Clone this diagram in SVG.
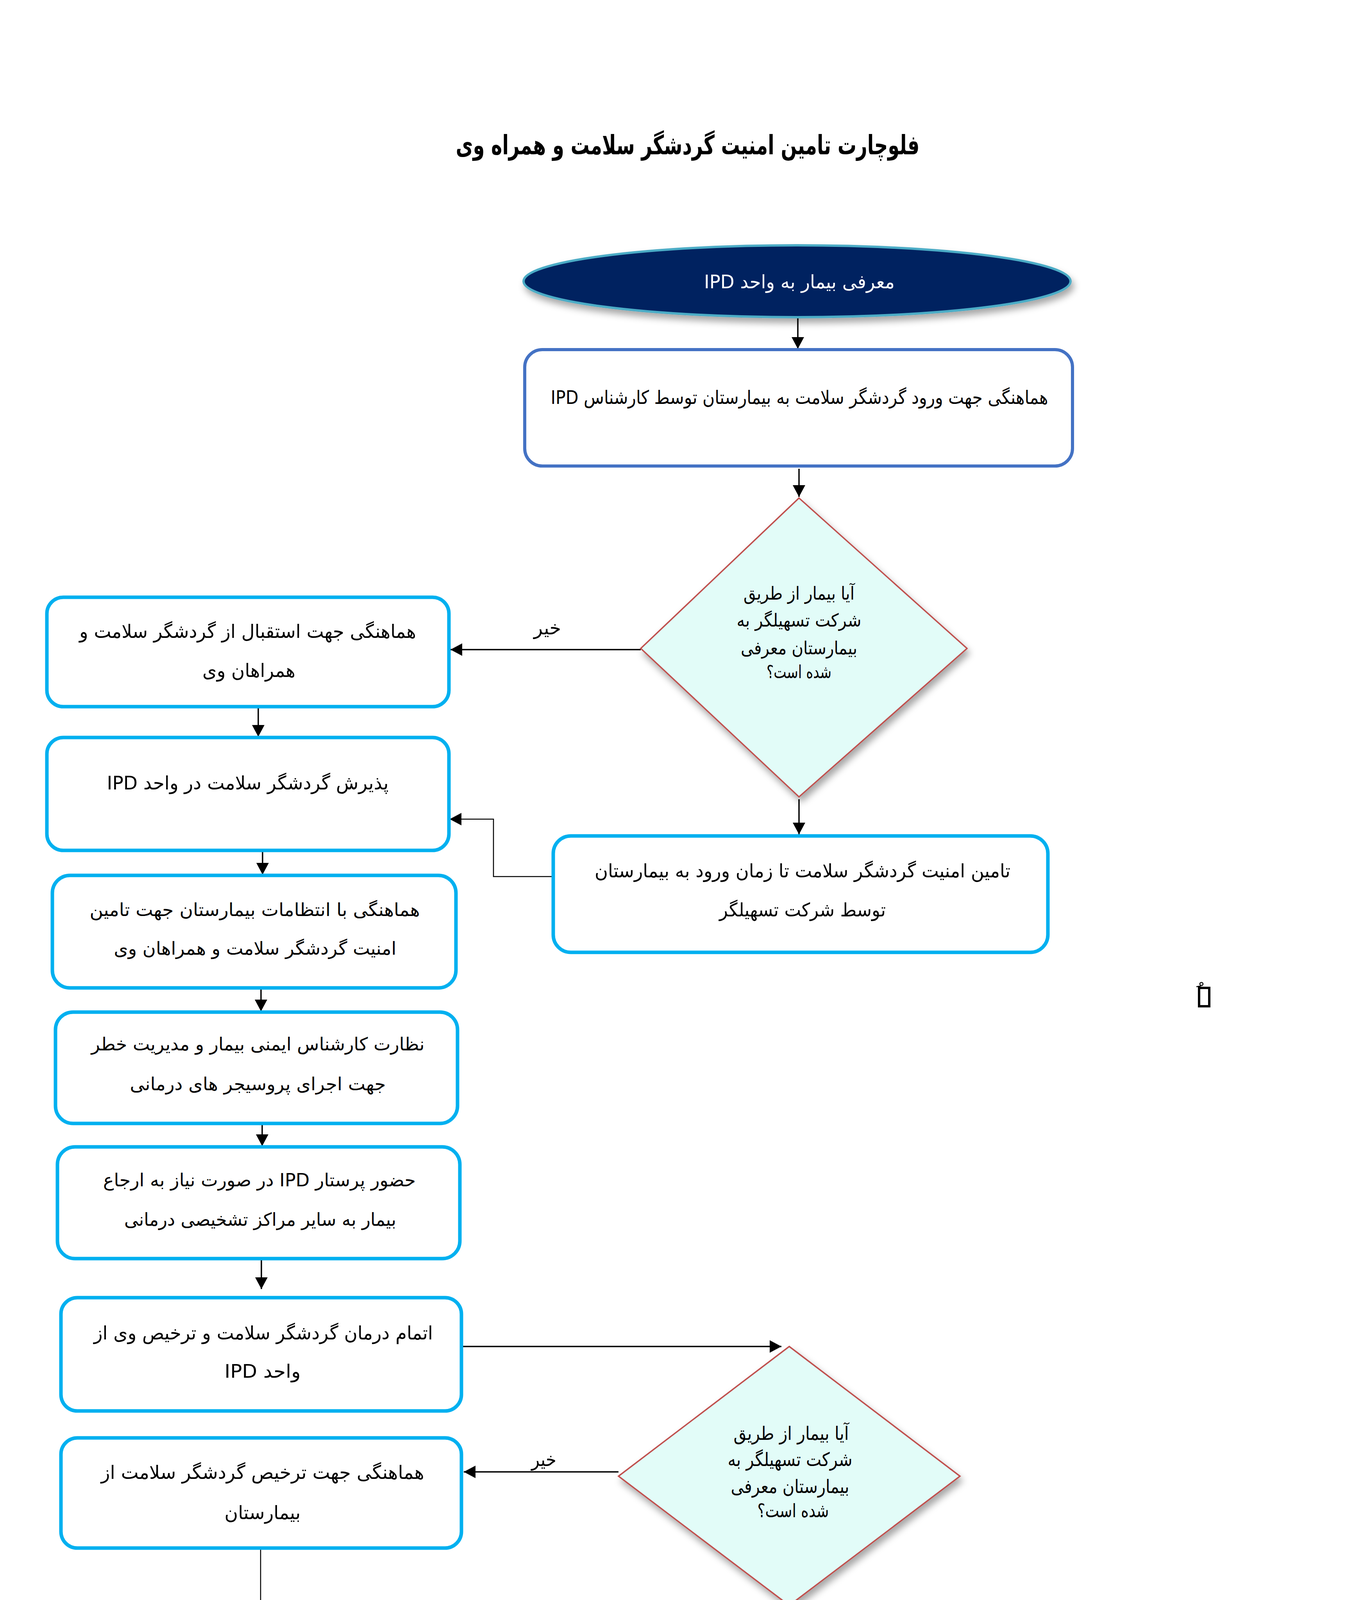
<svg xmlns="http://www.w3.org/2000/svg" width="3509" height="4961" viewBox="0 0 3509 4961">
<defs>
<style>
.bg{fill:#ffffff}
.box{fill:#ffffff;stroke:#00B0F0;stroke-width:9}
.box1{fill:#ffffff;stroke:#4472C4;stroke-width:8}
.dia{fill:#E2FCF8;stroke:#C0504D;stroke-width:3.5;filter:url(#sh)}
.term{fill:#002060;stroke-width:6;filter:url(#sh)}
.tc{font-family:"DejaVu Sans Condensed","DejaVu Sans",sans-serif;direction:rtl;text-anchor:middle;fill:#000000;font-size:48px}
.tn{font-family:"DejaVu Sans","Noto Sans",sans-serif;direction:rtl;text-anchor:middle;fill:#000000;font-size:46px}
.tw{fill:#ffffff}
.title{font-family:"DejaVu Sans Condensed","DejaVu Sans",sans-serif;direction:rtl;text-anchor:middle;font-weight:bold;font-size:68px;fill:#000000}
.conn{stroke:#000000;stroke-width:3.5;fill:none;marker-end:url(#ah)}
.thin{stroke-width:2.5}
</style>
<marker id="ah" markerUnits="userSpaceOnUse" markerWidth="32" markerHeight="32" refX="30" refY="16" orient="auto">
<path d="M0,0 L30,16 L0,32 z" fill="#000000"/>
</marker>
<filter id="sh" x="-10%" y="-10%" width="130%" height="140%">
<feDropShadow dx="6" dy="12" stdDeviation="9" flood-color="#000000" flood-opacity="0.35"/>
</filter>
</defs>
<rect class="bg" x="0" y="0" width="3509" height="4961"/>

<g id="title">
<text class="title" x="1760" y="395" textLength="1187" lengthAdjust="spacingAndGlyphs">فلوچارت تامین امنیت گردشگر سلامت و همراه وی</text>
</g>

<g id="connectors">
<path class="conn" d="M2042,815 L2042,893"/>
<path class="conn" d="M2045,1200 L2045,1272"/>
<path class="conn" d="M1640,1663 L1153,1663"/>
<path class="conn" d="M2045,2046 L2045,2136"/>
<path class="conn" d="M661,1810 L661,1886"/>
<path class="conn thin" d="M1414,2244 L1263,2244 L1263,2097 L1151,2097"/>
<path class="conn" d="M672,2180 L672,2239"/>
<path class="conn" d="M668,2532 L668,2589"/>
<path class="conn" d="M671,2879 L671,2934"/>
<path class="conn" d="M669,3225 L669,3300"/>
<path class="conn" d="M1183,3447 L2000,3447"/>
<path class="conn" d="M1583,3768 L1187,3768"/>
<path class="conn" d="M2012,4123 L2012,4207"/>
<path class="conn" d="M2004,4453 L2004,4531"/>
<path class="conn thin" d="M667,3966 L667,4616 L1627,4616"/>
<text class="tc" x="1401" y="1624" font-size="42" textLength="70" lengthAdjust="spacingAndGlyphs">خیر</text>
<text class="tc" x="1392" y="3753" font-size="42" textLength="64" lengthAdjust="spacingAndGlyphs">خیر</text>
<text class="tc" x="1980" y="4162" font-size="42" textLength="46" lengthAdjust="spacingAndGlyphs">بله</text>
</g>

<g id="start">
<ellipse class="term" cx="2040" cy="720" rx="700" ry="92" stroke="#4BACC6"/>
<text class="tc tw" x="2046" y="738" font-size="54" textLength="488" lengthAdjust="spacingAndGlyphs">معرفی بیمار به واحد IPD</text>
</g>

<g id="box1">
<rect class="box1" x="1343" y="895" width="1402" height="298" rx="45" ry="45"/>
<text class="tc" x="2046" y="1034" font-size="50" textLength="1273" lengthAdjust="spacingAndGlyphs">هماهنگی جهت ورود گردشگر سلامت به بیمارستان توسط کارشناس IPD</text>
</g>

<g id="decision1">
<polygon class="dia" points="2045,1275 2475,1660 2045,2040 1640,1660"/>
<text class="tn" x="2045" y="1535" font-size="44" textLength="284" lengthAdjust="spacingAndGlyphs">آیا بیمار از طریق</text>
<text class="tn" x="2045" y="1604" font-size="44" textLength="319" lengthAdjust="spacingAndGlyphs">شرکت تسهیلگر به</text>
<text class="tn" x="2045" y="1675" font-size="44" textLength="298" lengthAdjust="spacingAndGlyphs">بیمارستان معرفی</text>
<text class="tn" x="2045" y="1736" font-size="44" textLength="166" lengthAdjust="spacingAndGlyphs">شده است؟</text>
</g>

<g id="boxA">
<rect class="box" x="120" y="1529" width="1029" height="280" rx="42" ry="42"/>
<text class="tc" x="634" y="1633" font-size="50" textLength="862" lengthAdjust="spacingAndGlyphs">هماهنگی جهت استقبال از گردشگر سلامت و</text>
<text class="tc" x="637" y="1733" font-size="50" textLength="238" lengthAdjust="spacingAndGlyphs">همراهان وی</text>
</g>

<g id="boxB">
<rect class="box" x="120" y="1888" width="1029" height="289" rx="42" ry="42"/>
<text class="tc" x="634" y="2021" font-size="50" textLength="721" lengthAdjust="spacingAndGlyphs">پذیرش گردشگر سلامت در واحد IPD</text>
</g>

<g id="boxC">
<rect class="box" x="1416" y="2140" width="1266" height="298" rx="45" ry="45"/>
<text class="tc" x="2054" y="2246" font-size="50" textLength="1064" lengthAdjust="spacingAndGlyphs">تامین امنیت گردشگر سلامت تا زمان ورود به بیمارستان</text>
<text class="tc" x="2054" y="2346" font-size="50" textLength="426" lengthAdjust="spacingAndGlyphs">توسط شرکت تسهیلگر</text>
</g>

<g id="boxD">
<rect class="box" x="134" y="2241" width="1033" height="288" rx="45" ry="45"/>
<text class="tn" x="652" y="2345" textLength="845" lengthAdjust="spacingAndGlyphs">هماهنگی با انتظامات بیمارستان جهت تامین</text>
<text class="tn" x="653" y="2444" textLength="723" lengthAdjust="spacingAndGlyphs">امنیت گردشگر سلامت و همراهان وی</text>
</g>

<g id="boxE">
<rect class="box" x="142" y="2591" width="1029" height="285" rx="45" ry="45"/>
<text class="tn" x="660" y="2689" textLength="853" lengthAdjust="spacingAndGlyphs">نظارت کارشناس ایمنی بیمار و مدیریت خطر</text>
<text class="tn" x="660" y="2791" textLength="655" lengthAdjust="spacingAndGlyphs">جهت اجرای پروسیجر های درمانی</text>
</g>

<g id="boxF">
<rect class="box" x="147" y="2936" width="1030" height="286" rx="45" ry="45"/>
<text class="tn" x="664" y="3037" textLength="800" lengthAdjust="spacingAndGlyphs">حضور پرستار IPD در صورت نیاز به ارجاع</text>
<text class="tn" x="666" y="3138" textLength="696" lengthAdjust="spacingAndGlyphs">بیمار به سایر مراکز تشخیصی درمانی</text>
</g>

<g id="boxG">
<rect class="box" x="156" y="3322" width="1025" height="290" rx="42" ry="42"/>
<text class="tc" x="674" y="3429" font-size="50" textLength="868" lengthAdjust="spacingAndGlyphs">اتمام درمان گردشگر سلامت و ترخیص وی از</text>
<text class="tc" x="672" y="3527" font-size="50" textLength="195" lengthAdjust="spacingAndGlyphs">واحد IPD</text>
</g>

<g id="decision2">
<polygon class="dia" points="2020,3447 2457,3779 2020,4110 1583,3779"/>
<text class="tc" x="2025" y="3686" font-size="46" textLength="295" lengthAdjust="spacingAndGlyphs">آیا بیمار از طریق</text>
<text class="tc" x="2022" y="3753" font-size="46" textLength="319" lengthAdjust="spacingAndGlyphs">شرکت تسهیلگر به</text>
<text class="tc" x="2022" y="3822" font-size="46" textLength="303" lengthAdjust="spacingAndGlyphs">بیمارستان معرفی</text>
<text class="tc" x="2030" y="3884" font-size="46" textLength="183" lengthAdjust="spacingAndGlyphs">شده است؟</text>
</g>

<g id="boxH">
<rect class="box" x="156" y="3681" width="1025" height="282" rx="42" ry="42"/>
<text class="tc" x="672" y="3786" font-size="50" textLength="827" lengthAdjust="spacingAndGlyphs">هماهنگی جهت ترخیص گردشگر سلامت از</text>
<text class="tc" x="672" y="3889" font-size="50" textLength="195" lengthAdjust="spacingAndGlyphs">بیمارستان</text>
</g>

<g id="boxI">
<rect class="box" x="1497" y="4211" width="1043" height="270" rx="45" ry="45"/>
<text class="tn" x="2018" y="4320" textLength="814" lengthAdjust="spacingAndGlyphs">هماهنگی با شرکت تسهیلگر جهت ترخیص</text>
<text class="tn" x="2014" y="4415" textLength="908" lengthAdjust="spacingAndGlyphs">گردشگر سلامت از بیمارستان و تامین امنیت وی</text>
</g>

<g id="end">
<ellipse class="term" cx="2003" cy="4618" rx="373" ry="87" stroke="#9BBB59"/>
<text class="tn tw" x="2006" y="4648" font-size="48" textLength="254" lengthAdjust="spacingAndGlyphs">ترخیص بیمار</text>
</g>

<g id="stray-mark">
<rect x="3069" y="2529" width="26" height="47" fill="none" stroke="#000000" stroke-width="6"/>
<circle cx="3075" cy="2519" r="4" fill="none" stroke="#000000" stroke-width="2.5"/>
<path d="M3062,2526 L3074,2524" stroke="#000000" stroke-width="2.5" fill="none"/>
</g>
</svg>
